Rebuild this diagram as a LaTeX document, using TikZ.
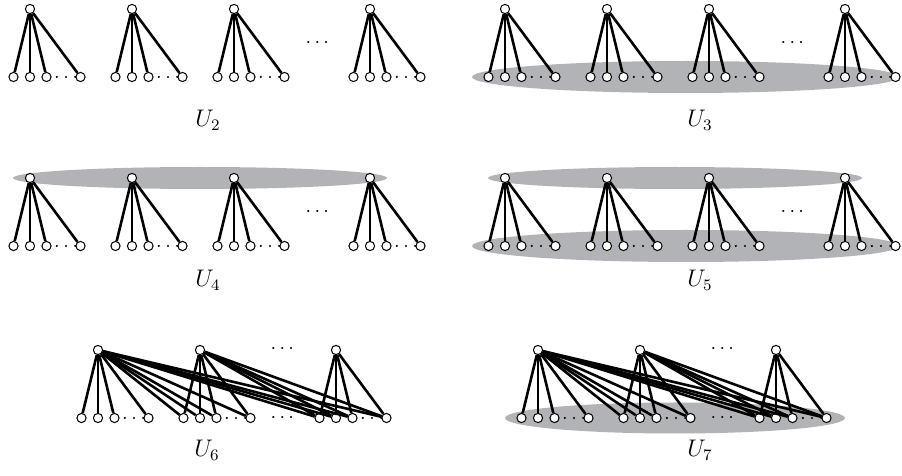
\documentclass[tikz,border=0pt]{standalone}
\usepackage{tikz}
\usetikzlibrary{calc,positioning}
\usepackage{amsmath}
\definecolor{shade}{RGB}{178,179,183}
\tikzset{
  vtx/.style={circle,draw,fill=white,inner sep=0pt,minimum size=4.6pt,line width=0.5pt},
  edg/.style={line width=1.3pt},
  gap/.style={line width=1.2pt,line cap=round,dash pattern=on 0pt off 4.6pt,dash phase=2pt},
  blob/.style={fill=shade},
  lbl/.style={anchor=base,font=\fontsize{12}{14}\selectfont}
}

\begin{document}
\begin{tikzpicture}[x=0.5pt,y=-0.5pt]
\useasboundingbox (0,0) rectangle (902,476);

% shaded classes
\fill[blob] (685.5,77) ellipse [x radius=213.5,y radius=16];
\fill[blob] (200,178) ellipse [x radius=187,y radius=11];
\fill[blob] (675,178) ellipse [x radius=187,y radius=11];
\fill[blob] (685.5,246) ellipse [x radius=213.5,y radius=16];
\fill[blob] (675,418) ellipse [x radius=170,y radius=15.5];

% disjoint stars: U_2 .. U_5
\foreach \p/\bx/\ty in {a/30/9,b/505/9,c/30/178,d/505/178}{
  \foreach \s/\dx in {1/0,2/102,3/204,4/340}{
    \node[vtx] (\p\s) at (\bx+\dx,\ty) {};
    \foreach \l/\lx in {1/-16.5,2/0,3/16.5,4/50.5}
      \node[vtx] (\p\s-\l) at (\bx+\dx+\lx,\ty+68) {};
    \foreach \l in {1,...,4}
      \draw[edg] (\p\s) -- (\p\s-\l);
    \draw[gap] (\p\s-3) -- (\p\s-4);
  }
  \node (\p dots) at (\bx+289,\ty+34) {$\cdots$};
}

% nested stars: U_6, U_7
\foreach \p/\bx in {e/98,f/538}{
  \foreach \s/\dx in {1/0,2/102,3/238}{
    \node[vtx] (\p\s) at (\bx+\dx,350) {};
    \foreach \l/\lx in {1/-16.5,2/0,3/16.5,4/50.5}
      \node[vtx] (\p\s-\l) at (\bx+\dx+\lx,418) {};
    \draw[gap] (\p\s-3) -- (\p\s-4);
  }
  \foreach \s in {1,2,3}
    \foreach \g in {\s,...,3}
      \foreach \l in {1,...,4}
        \draw[edg] (\p\s) -- (\p\g-\l);
  \node (\p topdots) at (\bx+186,349) {$\cdots$};
  \node (\p lowdots) at (\bx+186,418) {$\cdots$};
}

% labels
\node[lbl] (u2) at (208,127) {$U_2$};
\node[lbl] (u3) at (700,127) {$U_3$};
\node[lbl] (u4) at (208,287) {$U_4$};
\node[lbl] (u5) at (700,287) {$U_5$};
\node[lbl] (u6) at (207,457) {$U_6$};
\node[lbl] (u7) at (700,457) {$U_7$};
\end{tikzpicture}
\end{document}
